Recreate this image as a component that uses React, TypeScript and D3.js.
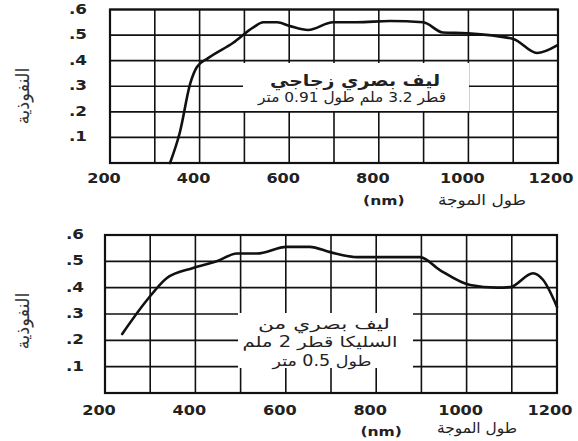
import React from "react";
import * as d3 from "d3";

const xTicks = [200, 400, 600, 800, 1000, 1200];
const xGrid = [200, 300, 400, 500, 600, 700, 800, 900, 1000, 1100, 1200];
const yTicks = [0.1, 0.2, 0.3, 0.4, 0.5, 0.6];
const yGrid = [0, 0.1, 0.2, 0.3, 0.4, 0.5, 0.6];
const yLabel = "النفوذية";
const xLabelAr = "طول الموجة";
const xLabelUnit = "(nm)";

const topWl = [334, 356, 379, 394, 419, 475, 520, 542, 573, 602, 642, 698, 751, 825, 899, 943, 997, 1100, 1153, 1198];
const topT = [0, 0.12, 0.31, 0.375, 0.41, 0.47, 0.53, 0.55, 0.55, 0.535, 0.52, 0.55, 0.55, 0.555, 0.55, 0.51, 0.507, 0.485, 0.43, 0.46];
const topNote = ["ليف بصري زجاجي", "قطر 3.2 ملم طول 0.91 متر"];

const botWl = [238, 293, 337, 395, 447, 492, 536, 602, 653, 698, 757, 830, 897, 941, 1008, 1067, 1096, 1147, 1169, 1200];
const botT = [0.224, 0.353, 0.437, 0.475, 0.5, 0.53, 0.53, 0.555, 0.555, 0.535, 0.516, 0.516, 0.516, 0.467, 0.41, 0.4, 0.402, 0.455, 0.43, 0.327];
const botNote = ["ليف بصري من", "السليكا قطر 2 ملم", "طول 0.5 متر"];

const FONT = "'DejaVu Sans', sans-serif";

type PanelProps = {
  x0: number; x1: number; y0: number; y1: number;
  wl: number[]; t: number[];
  note: string[];
  box: { x: number; y: number; w: number; h: number };
  noteX: number[]; noteY: number[]; noteW: number[]; noteSize: number[]; noteBold: boolean[];
  tickY: number; unitY: number; arX: number; arY: number; arW: number;
  yLabelX: number; yLabelY: number; tickRight: number;
};

function Panel(p: PanelProps) {
  const x = d3.scaleLinear().domain([200, 1200]).range([p.x0, p.x1]);
  const y = d3.scaleLinear().domain([0, 0.6]).range([p.y0, p.y1]);
  const pts: [number, number][] = p.wl.map((w, i) => [w, p.t[i]]);
  const line = d3.line<[number, number]>().x(d => x(d[0])).y(d => y(d[1])).curve(d3.curveMonotoneX);
  return (
    <g>
      {xGrid.map(g => (
        <line key={"vx" + g} x1={x(g)} x2={x(g)} y1={y(0)} y2={y(0.6)} stroke="#111" strokeWidth={1.6} />
      ))}
      {yGrid.map(g => (
        <line key={"hy" + g} x1={x(200)} x2={x(1200)} y1={y(g)} y2={y(g)} stroke="#111" strokeWidth={1.6} />
      ))}
      <rect x={x(200)} y={y(0.6)} width={x(1200) - x(200)} height={y(0) - y(0.6)} fill="none" stroke="#111" strokeWidth={2.2} />
      <rect x={p.box.x} y={p.box.y} width={p.box.w} height={p.box.h} fill="#fff" />
      {p.note.map((s, i) => (
        <text key={"n" + i} x={p.noteX[i] - p.noteW[i] / 2} y={p.noteY[i]} textAnchor="start" dominantBaseline="middle"
          textLength={p.noteW[i]} lengthAdjust="spacingAndGlyphs"
          fontFamily={FONT} fontSize={p.noteSize[i]} fontWeight={p.noteBold[i] ? "bold" : "normal"} fill="#222">{s}</text>
      ))}
      <path d={line(pts) || ""} fill="none" stroke="#111" strokeWidth={2.6} strokeLinejoin="round" strokeLinecap="round" />
      {yTicks.map(v => (
        <text key={"yt" + v} transform={`translate(${p.tickRight},${y(v)}) scale(1.2,1)`} textAnchor="end" dominantBaseline="middle"
          fontFamily={FONT} fontWeight="bold" fontSize={14} fill="#222">{"." + Math.round(v * 10)}</text>
      ))}
      {xTicks.map(v => (
        <text key={"xt" + v} transform={`translate(${x(v) - (v === 1200 ? 7 : 6)},${p.tickY}) scale(1.15,1)`} textAnchor="middle" dominantBaseline="middle"
          fontFamily={FONT} fontWeight="bold" fontSize={14} fill="#222">{v}</text>
      ))}
      <text transform={`translate(${x(800) + 5},${p.unitY}) scale(1.2,1)`} textAnchor="middle" dominantBaseline="middle" fontFamily={FONT} fontWeight="bold" fontSize={13} fill="#222">{xLabelUnit}</text>
      <text x={p.arX - p.arW / 2} y={p.arY} textAnchor="start" dominantBaseline="middle" textLength={p.arW} lengthAdjust="spacingAndGlyphs"
        fontFamily={FONT} fontSize={15} fill="#222">{xLabelAr}</text>
      <text transform={`translate(${p.yLabelX},${p.yLabelY}) rotate(-90)`} textAnchor="middle" dominantBaseline="middle"
        fontFamily={FONT} fontSize={18} fill="#333">{yLabel}</text>
    </g>
  );
}

export default function App() {
  return (
    <svg width={578} height={441} style={{ position: "absolute", left: 0, top: 0, background: "#fff" }}>
      <rect x={0} y={0} width={578} height={441} fill="#fff" />
      <Panel x0={110} x1={558} y0={163} y1={9.5} wl={topWl} t={topT} note={topNote}
        box={{ x: 243, y: 63, w: 226, h: 48 }}
        noteX={[355, 352]} noteY={[81, 98]} noteW={[170, 188]} noteSize={[16, 14]} noteBold={[true, false]}
        tickY={179} unitY={201} arX={482} arY={200} arW={88} yLabelX={24} yLabelY={96} tickRight={87} />
      <Panel x0={105} x1={557} y0={393} y1={235} wl={botWl} t={botT} note={botNote}
        box={{ x: 238, y: 313, w: 175, h: 55 }}
        noteX={[324, 320, 322]} noteY={[324, 342, 361]} noteW={[132, 155, 99]} noteSize={[15, 15, 15]} noteBold={[false, false, false]}
        tickY={411} unitY={432} arX={477} arY={428} arW={80} yLabelX={24} yLabelY={321} tickRight={84} />
    </svg>
  );
}
